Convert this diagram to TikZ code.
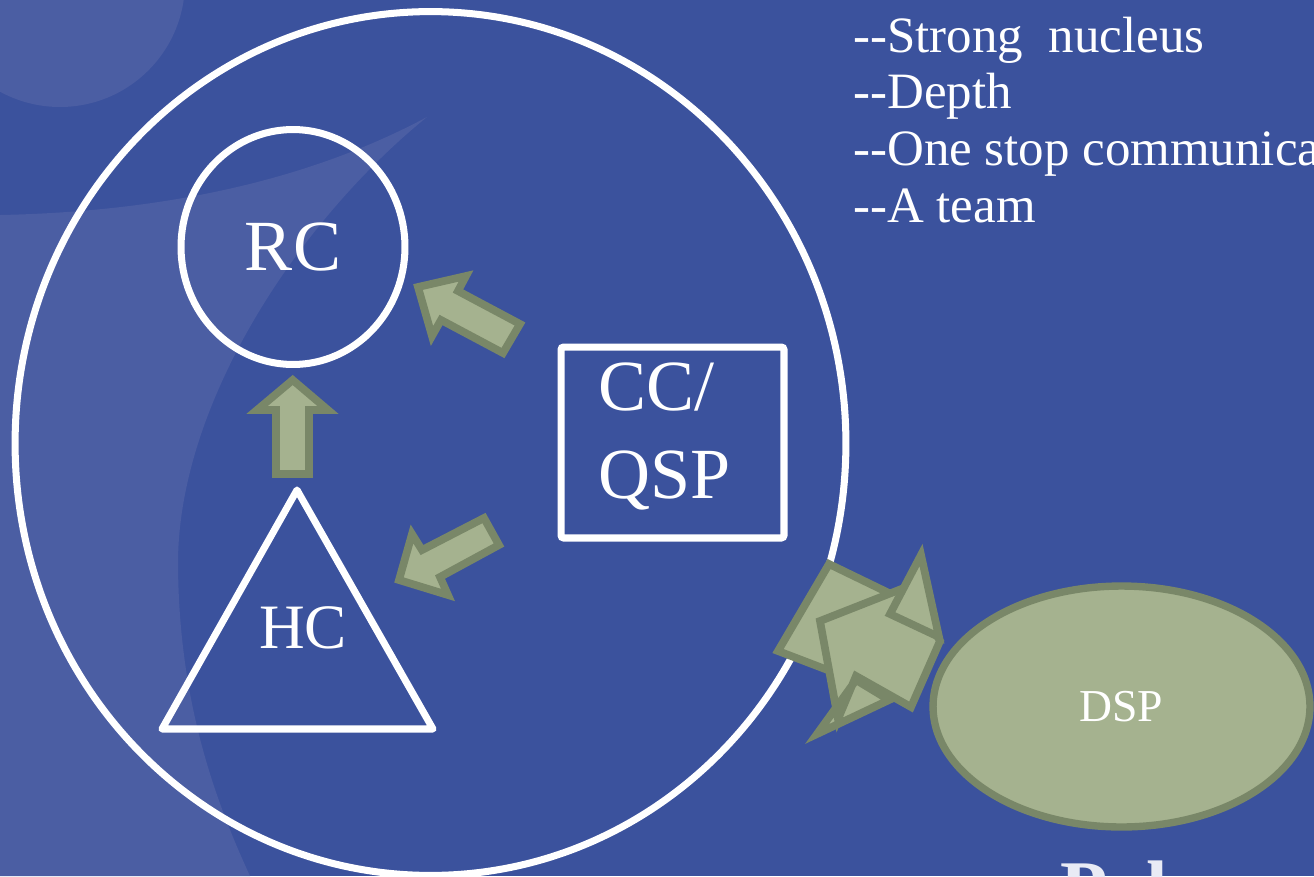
\documentclass[tikz,border=0pt]{standalone}
\usepackage{fontspec}
\setmainfont{Liberation Serif}
\newfontfamily\listfont{Liberation Serif}
\usetikzlibrary{shapes.geometric}
\definecolor{bgdark}{RGB}{59,82,157}
\definecolor{bglight}{RGB}{75,94,163}
\definecolor{sage}{RGB}{165,178,143}
\definecolor{sagedark}{RGB}{121,135,104}
\definecolor{palwhite}{RGB}{233,235,245}
\begin{document}
\begin{tikzpicture}[x=0.02cm,y=-0.02cm,
  wline/.style={draw=white,line width=4pt},
  blockarrow/.style={fill=sage,draw=sagedark,line width=4.4pt,line join=miter},
  lbl/.style={text=white,inner sep=0pt},
  listline/.style={text=white,inner sep=0pt,anchor=base west,font=\listfont\fontsize{29}{32}\selectfont},
]
\useasboundingbox (0,0) rectangle (1314,876);
\clip (0,0) rectangle (1314,876);
% background
\fill[bgdark] (0,0) rectangle (1314,876);
\fill[bglight] (60,-18) ellipse [x radius=125, y radius=125];
\fill[bglight] (0,215) .. controls (150,212) and (300,185) .. (427,117)
  .. controls (300,220) and (180,400) .. (178,560)
  .. controls (178,700) and (215,800) .. (250,876) -- (0,876) -- cycle;
% outer circle
\node[ellipse, wline, minimum width=16.62cm, minimum height=17.28cm, inner sep=0pt] (core) at (430.5,443.5) {};
% RC
\node[ellipse, wline, minimum width=4.48cm, minimum height=4.7cm, inner sep=0pt,
      text=white, font=\fontsize{41}{49}\selectfont] (rc) at (293,247) {RC};
% CC/QSP
\node[rectangle, wline, rounded corners=1.5pt, minimum width=4.46cm, minimum height=3.82cm, inner sep=0pt] (cc) at (672.5,442.5) {};
\node[lbl, anchor=base west, font=\fontsize{41}{49}\selectfont] (cc1) at (598,410) {CC/};
\node[lbl, anchor=base west, font=\fontsize{41}{49}\selectfont] (cc2) at (598,498) {QSP};
% HC triangle
\coordinate (hct) at (297,490);
\coordinate (hcl) at (162,729);
\coordinate (hcr) at (433,729);
\draw[wline, line join=round] (hct) -- (hcl) -- (hcr) -- cycle;
\node[lbl, font=\fontsize{36}{43}\selectfont] (hc) at (303,628) {HC};
% block arrows
\draw[blockarrow] (292.7,380) -- (257,410) -- (276,410) -- (276,474) -- (309,474) -- (309,410) -- (328,410) -- cycle;
\draw[blockarrow] (418,287) -- (466,276) -- (458,291) -- (520,324) -- (503,353) -- (441,320) -- (432,336) -- cycle;
\draw[blockarrow] (399,580) -- (412,534) -- (422,550) -- (484,518) -- (499,545) -- (440,577) -- (448,595) -- cycle;
% double arrows toward DSP
\draw[blockarrow] (829,564) -- (893,595) -- (920,650) -- (880,690) -- (778,651) -- cycle;
\draw[blockarrow] (820,621) -- (909,586) -- (940,641) -- (911,707) -- (856,676) -- (838,719) -- cycle
  (856,680) -- (817,734) -- (889,700) -- cycle;
\draw[blockarrow] (921,555) -- (890,614) -- (939,637) -- cycle;
% DSP
\node[ellipse, fill=sage, draw=sagedark, line width=4.2pt, minimum width=7.54cm, minimum height=4.82cm,
      inner sep=0pt, text=white, font=\fontsize{26}{31}\selectfont] (dsp) at (1121.5,706.5) {DSP};
% list
\node[listline] (l1) at (853,52) {-{}-Strong\ \ nucleus};
\node[listline] (l2) at (853,108) {-{}-Depth};
\node[listline] (l3) at (853,165) {-{}-One stop communication};
\node[listline] (l4) at (853,222) {-{}-A team};
% cut-off title
\node[text=palwhite, inner sep=0pt, anchor=base west, font=\bfseries\fontsize{44}{50}\selectfont] (pal) at (1060,914) {Pal};
\end{tikzpicture}
\end{document}
